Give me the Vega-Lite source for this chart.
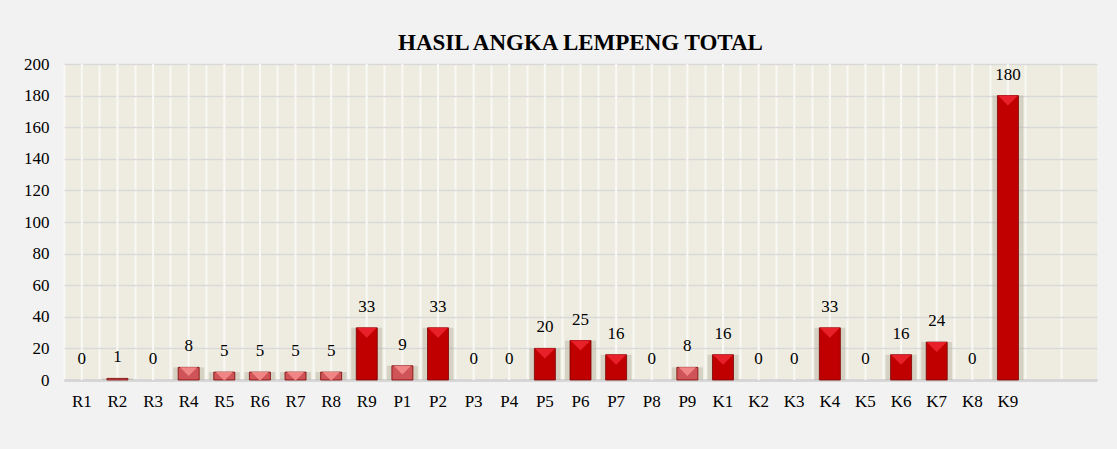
{
  "$schema": "https://vega.github.io/schema/vega-lite/v6.json",
  "autosize": "none",
  "width": 1033,
  "height": 316,
  "padding": {"left": 64, "top": 64, "right": 20, "bottom": 69},
  "background": "#f2f2f2",
  "title": {"text": "HASIL ANGKA LEMPENG TOTAL", "font": "Liberation Serif", "fontSize": 23, "fontWeight": "bold", "color": "#000000", "anchor": "middle", "offset": 0},
  "config": {
    "view": {"fill": "#eeece1", "stroke": null},
    "axis": {"labelFont": "Liberation Serif", "labelFontSize": 17, "labelColor": "#000000"}
  },
  "data": {"values": [
      {"cat": "R1", "value": 0}, {"cat": "R2", "value": 1}, {"cat": "R3", "value": 0}, {"cat": "R4", "value": 8}, {"cat": "R5", "value": 5},
      {"cat": "R6", "value": 5}, {"cat": "R7", "value": 5}, {"cat": "R8", "value": 5}, {"cat": "R9", "value": 33},
      {"cat": "P1", "value": 9}, {"cat": "P2", "value": 33}, {"cat": "P3", "value": 0}, {"cat": "P4", "value": 0}, {"cat": "P5", "value": 20},
      {"cat": "P6", "value": 25}, {"cat": "P7", "value": 16}, {"cat": "P8", "value": 0}, {"cat": "P9", "value": 8},
      {"cat": "K1", "value": 16}, {"cat": "K2", "value": 0}, {"cat": "K3", "value": 0}, {"cat": "K4", "value": 33}, {"cat": "K5", "value": 0},
      {"cat": "K6", "value": 16}, {"cat": "K7", "value": 24}, {"cat": "K8", "value": 0}, {"cat": "K9", "value": 180},
      {"cat": "_a", "value": null}, {"cat": "_b", "value": null}
  ]},
  "encoding": {
    "x": {"field": "cat", "type": "nominal", "sort": null,
      "scale": {"domain": ["R1","R2","R3","R4","R5","R6","R7","R8","R9","P1","P2","P3","P4","P5","P6","P7","P8","P9","K1","K2","K3","K4","K5","K6","K7","K8","K9","_a","_b"], "paddingInner": 0, "paddingOuter": 0},
      "axis": {"title": null, "labelAngle": 0, "labelPadding": 13, "ticks": false, "domain": true, "domainColor": "#d6d6d6", "domainWidth": 3, "grid": true, "gridColor": "#f8f8f5", "gridWidth": 2, "bandPosition": 0, "labelExpr": "indexof(datum.value, '_') == 0 ? '' : datum.value"}},
    "y": {"field": "value", "type": "quantitative", "scale": {"domain": [0, 200], "nice": false},
      "axis": {"title": null, "values": [0,20,40,60,80,100,120,140,160,180,200], "domain": false, "ticks": false, "grid": true, "gridColor": "#d9d9d9", "gridWidth": 1.3, "labelPadding": 15}}
  },
  "layer": [
    {
      "mark": {"type": "rule", "color": "#f8f8f5", "strokeWidth": 2},
      "encoding": {
        "y": {"datum": 0},
        "y2": {"datum": 200}
      }
    },
    {
      "transform": [{"filter": "isValid(datum.value)"}],
      "mark": {"type": "bar", "color": "#9c9680", "opacity": 0.3, "width": 31}
    },
    {
      "transform": [{"filter": "datum.value > 0"}],
      "mark": {"type": "bar", "width": 21, "stroke": "#7a0000", "strokeWidth": 0.8},
      "encoding": {
        "color": {"condition": {"test": "datum.value < 10", "value": "#cf5457"}, "value": "#c00000"}
      }
    },
    {
      "transform": [{"filter": "datum.value > 1"}],
      "mark": {"type": "point", "shape": "M-1,0L1,0L0,1Z", "filled": true, "opacity": 1, "strokeWidth": 0},
      "encoding": {
        "size": {"condition": {"test": "datum.value < 10", "value": 300}, "value": 400},
        "color": {"condition": {"test": "datum.value < 10", "value": "#f08585"}, "value": "#e8202a"}
      }
    },
    {
      "transform": [{"filter": "isValid(datum.value)"}],
      "mark": {"type": "text", "font": "Liberation Serif", "fontSize": 17, "color": "#000000", "baseline": "middle", "dy": -21},
      "encoding": {
        "text": {"field": "value", "type": "quantitative"}
      }
    }
  ]
}
